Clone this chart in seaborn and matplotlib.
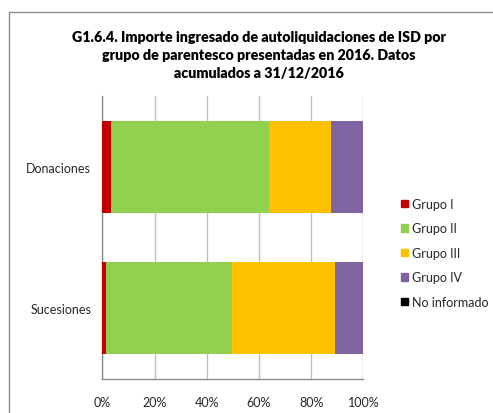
import matplotlib
matplotlib.use("Agg")
import matplotlib.pyplot as plt
import matplotlib.patches as mpatches
import seaborn as sns
import pandas as pd
import numpy as np

categories = ["Donaciones", "Sucesiones"]
series = ["Grupo I", "Grupo II", "Grupo III", "Grupo IV", "No informado"]
grupo_i = [3.4, 1.3]
grupo_ii = [60.6, 48.4]
grupo_iii = [23.7, 39.3]
grupo_iv = [12.3, 11.0]
no_informado = [0.0, 0.0]
colors = ["#C00000", "#92D050", "#FFC000", "#8064A2", "#000000"]
xticklabels = ["0%", "20%", "40%", "60%", "80%", "100%"]

sns.set_theme(style="white")
plt.rcParams['font.family'] = ['Lato', 'DejaVu Sans']

values = np.array([grupo_i, grupo_ii, grupo_iii, grupo_iv, no_informado])
cum = np.cumsum(values, axis=0)

fig = plt.figure(figsize=(4.93, 4.14), dpi=100)
ax = fig.add_axes([0.2075, 0.0821, 0.5295, 0.6836])

# draw cumulative layers from the last series backwards
for i in range(len(series) - 1, -1, -1):
    df = pd.DataFrame({"cat": categories, "val": cum[i]})
    sns.barplot(data=df, x="val", y="cat", orient="h", color=colors[i],
                width=0.65, saturation=1, ax=ax, zorder=3, linewidth=0)

ax.set_xlim(0, 100)
ax.set_xticks([0, 20, 40, 60, 80, 100])
ax.set_xticklabels(xticklabels, fontsize=9)
ax.set_xlabel("")
ax.set_ylabel("")
ax.tick_params(axis="y", labelsize=9, length=0, pad=8)
ax.tick_params(axis="x", length=0, pad=12)
ax.grid(axis="x", color="#BFBFBF", linewidth=1, zorder=0)
ax.set_axisbelow(True)
for s in ["top", "right"]:
    ax.spines[s].set_visible(False)
for s in ["left", "bottom"]:
    ax.spines[s].set_color("#8C8C8C")
    ax.spines[s].set_linewidth(1)

fig.text(0.525, 0.924,
         "G1.6.4. Importe ingresado de autoliquidaciones de ISD por\n"
         "grupo de parentesco presentadas en 2016. Datos\n"
         "acumulados a 31/12/2016",
         ha="center", va="top", fontsize=10.3, fontweight="heavy",
         linespacing=1.45, color="#000000")

handles = [mpatches.Patch(color=c, label=l) for c, l in zip(colors, series)]
fig.legend(handles=handles, loc="upper left", bbox_to_anchor=(0.813, 0.52),
           frameon=False, fontsize=9, handlelength=0.55, handleheight=0.55,
           handletextpad=0.35, labelspacing=1.0, borderaxespad=0, borderpad=0)

frame = mpatches.Rectangle((9 / 493, -0.05), 1.2, (414 - 13) / 414 + 0.05,
                           transform=fig.transFigure, fill=False,
                           edgecolor="#8C8C8C", linewidth=1, clip_on=False)
fig.patches.append(frame)

fig.savefig("out.png", dpi=100)
